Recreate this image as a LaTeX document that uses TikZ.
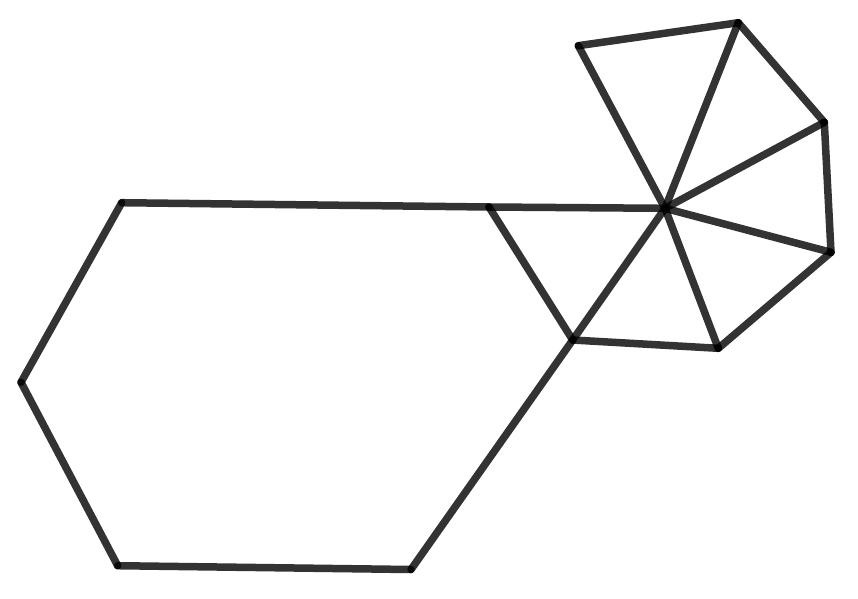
\documentclass[tikz,border=0pt]{standalone}
\usepackage{xcolor}
\usepackage{tikz}
\usetikzlibrary{math}

\begin{document}
\begin{tikzpicture}[x=1pt,y=-1pt,seg/.style={line width=7.5pt,draw=black,draw opacity=0.8,line cap=round}]
\useasboundingbox (0,0) rectangle (858,598);
\tikzmath{
	{\coordinate (a) at (121.7,202.7);};
	{\coordinate (b) at (489,207);};
	{\coordinate (o) at (665,208.3);};
	{\coordinate (c) at (572.7,340);};
	{\coordinate (d) at (411,569.5);};
	{\coordinate (e) at (117.7,565.7);};
	{\coordinate (f) at (21,382.3);};
	%
	{\coordinate (p1) at (578.3,45.7);};
	{\coordinate (p2) at (738.3,22.7);};
	{\coordinate (p3) at (824.3,122.3);};
	{\coordinate (p4) at (831,252.3);};
	{\coordinate (p5) at (718.3,348.3);};
	%
	{\draw[seg] (a) -- (b);};
	{\draw[seg] (b) -- (o);};
	{\draw[seg] (b) -- (c);};
	{\draw[seg] (o) -- (c);};
	{\draw[seg] (c) -- (d);};
	{\draw[seg] (d) -- (e);};
	{\draw[seg] (e) -- (f);};
	{\draw[seg] (f) -- (a);};
	%
	{\draw[seg] (o) -- (p1);};
	{\draw[seg] (o) -- (p2);};
	{\draw[seg] (o) -- (p3);};
	{\draw[seg] (o) -- (p4);};
	{\draw[seg] (o) -- (p5);};
	{\draw[seg] (p1) -- (p2);};
	{\draw[seg] (p2) -- (p3);};
	{\draw[seg] (p3) -- (p4);};
	{\draw[seg] (p4) -- (p5);};
	{\draw[seg] (p5) -- (c);};
};
\end{tikzpicture}
\end{document}
